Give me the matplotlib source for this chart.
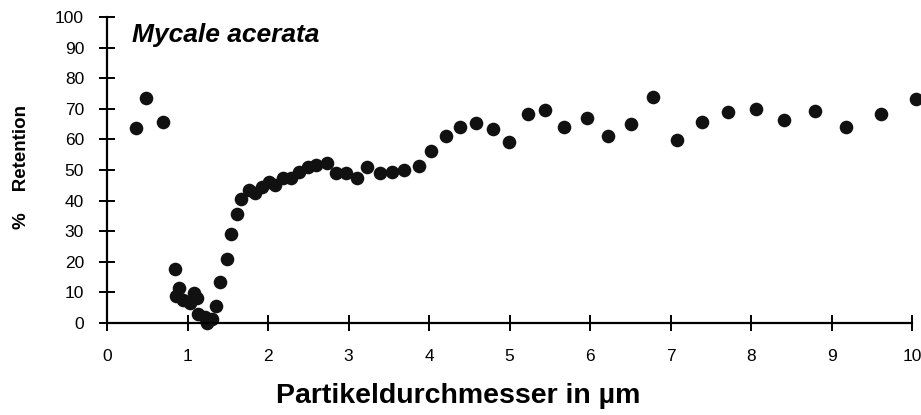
import matplotlib
matplotlib.use("Agg")
import matplotlib.pyplot as plt

# particle diameter (um) vs. % retention
diameter = [0.36, 0.49, 0.69, 0.84, 0.86, 0.90, 0.95, 1.03, 1.08, 1.12, 1.13,
            1.22, 1.24, 1.30, 1.35, 1.40, 1.49, 1.54, 1.62, 1.67, 1.76, 1.84,
            1.93, 2.01, 2.09, 2.19, 2.29, 2.39, 2.50, 2.60, 2.73, 2.85, 2.97,
            3.10, 3.23, 3.39, 3.54, 3.69, 3.87, 4.02, 4.21, 4.39, 4.59, 4.80,
            4.99, 5.23, 5.44, 5.68, 5.96, 6.22, 6.51, 6.78, 7.08, 7.39, 7.71,
            8.06, 8.41, 8.79, 9.18, 9.62, 10.05]
retention = [63.6, 73.4, 65.6, 17.5, 8.8, 11.3, 7.5, 6.4, 9.8, 8.1, 2.9,
             1.8, 0.1, 1.2, 5.4, 13.5, 20.9, 29.2, 35.5, 40.5, 43.6, 42.6,
             44.3, 46.2, 45.1, 47.3, 47.3, 49.5, 50.9, 51.6, 52.4, 49.1, 49.1,
             47.5, 50.9, 49.1, 49.2, 50.0, 51.4, 56.2, 61.1, 64.1, 65.4, 63.3,
             59.2, 68.3, 69.6, 64.0, 66.9, 61.2, 64.9, 74.0, 59.8, 65.6, 69.1,
             69.8, 66.3, 69.2, 64.2, 68.4, 73.2]
xticks = list(range(0, 11))
yticks = list(range(0, 101, 10))

plt.rcParams["font.family"] = ["Liberation Sans", "DejaVu Sans"]

fig = plt.figure(figsize=(9.21, 4.15), dpi=100)
ax = fig.add_axes([107 / 921, 92 / 415, 805 / 921, 306 / 415])

ax.plot(diameter, retention, "o", color="#111111", markersize=9.8,
        markeredgewidth=0, clip_on=False)

ax.set_xlim(0, 10)
ax.set_ylim(0, 100)
ax.set_xticks(xticks)
ax.set_yticks(yticks)
for s in ("top", "right"):
    ax.spines[s].set_visible(False)
for s in ("left", "bottom"):
    ax.spines[s].set_linewidth(1.6)
ax.tick_params(direction="inout", length=11, width=1.4, labelsize=12.5)
ax.tick_params(axis="x", pad=13)
ax.tick_params(axis="y", pad=11)

ax.text(0.31, 91.8, "Mycale acerata", fontsize=19, fontweight="bold",
        fontstyle="italic", ha="left", va="baseline")

fig.text(458 / 921, 1 - 396 / 415, "Partikeldurchmesser in µm", fontsize=20.5,
         fontweight="bold", ha="center", va="center")
fig.text(21 / 921, 1 - 167 / 415, "%    Retention", fontsize=13.5,
         fontweight="bold", rotation=90, ha="center", va="center")

fig.savefig("out.png", dpi=100)
